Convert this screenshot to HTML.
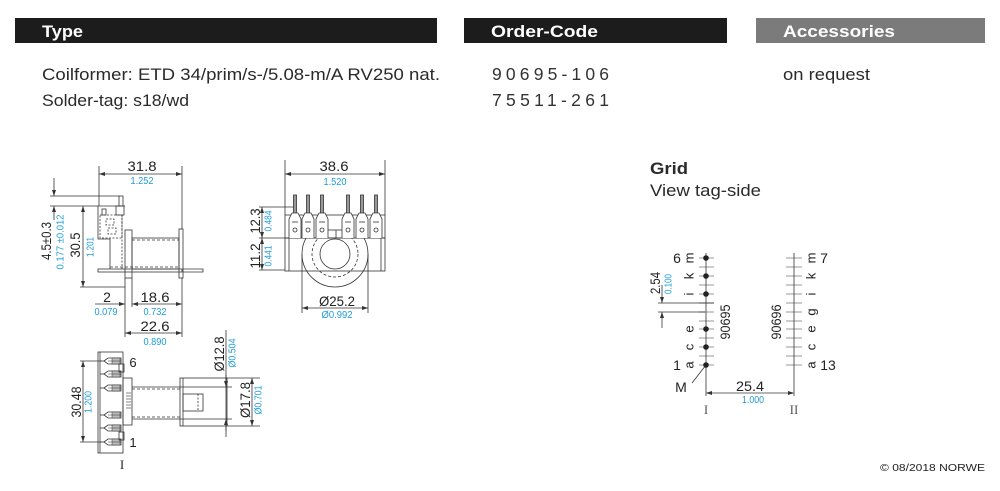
<!DOCTYPE html>
<html><head><meta charset="utf-8"><style>
html,body{margin:0;padding:0;background:#fff;}
svg{display:block;}
text{font-family:"Liberation Sans",sans-serif;}
.s{font-family:"Liberation Serif",serif;}
</style></head><body>
<svg width="1000" height="491" viewBox="0 0 1000 491" xmlns="http://www.w3.org/2000/svg">
<defs>
<marker id="a" viewBox="0 0 6 4" refX="6" refY="2" markerWidth="6" markerHeight="4" markerUnits="userSpaceOnUse" orient="auto-start-reverse"><path d="M0,0L6,2L0,4z" fill="#333"/></marker>
<clipPath id="cb"><rect x="250" y="238" width="150" height="80"/></clipPath>
</defs>

<!-- header -->
<rect x="15" y="18" width="422" height="25" fill="#1c1c1c"/>
<rect x="464" y="18" width="263" height="25" fill="#1c1c1c"/>
<rect x="756" y="18" width="229" height="25" fill="#7b7b7b"/>
<text x="42" y="37" font-size="17" font-weight="bold" fill="#fff" textLength="41" lengthAdjust="spacingAndGlyphs">Type</text>
<text x="491" y="37" font-size="17" font-weight="bold" fill="#fff" textLength="107" lengthAdjust="spacingAndGlyphs">Order-Code</text>
<text x="783" y="37" font-size="17" font-weight="bold" fill="#fff" textLength="112" lengthAdjust="spacingAndGlyphs">Accessories</text>

<g font-size="17" fill="#2a2a2a">
<text x="42" y="80" textLength="398" lengthAdjust="spacingAndGlyphs">Coilformer:  ETD 34/prim/s-/5.08-m/A RV250 nat.</text>
<text x="42" y="106" textLength="147" lengthAdjust="spacingAndGlyphs">Solder-tag:  s18/wd</text>
<text x="492" y="80" font-size="17.5" fill="#333" textLength="117" lengthAdjust="spacing">90695-106</text>
<text x="492" y="106" font-size="17.5" fill="#333" textLength="117" lengthAdjust="spacing">75511-261</text>
<text x="783" y="80" textLength="87" lengthAdjust="spacingAndGlyphs">on request</text>
<text x="650" y="174" font-weight="bold" textLength="38" lengthAdjust="spacingAndGlyphs">Grid</text>
<text x="650" y="196" textLength="111" lengthAdjust="spacingAndGlyphs">View tag-side</text>
</g>

<!-- ===== top-left drawing ===== -->
<g stroke="#333" stroke-width="0.8" fill="none">
<line x1="99" y1="166" x2="99" y2="206"/>
<line x1="182" y1="166" x2="182" y2="229"/>
<line x1="99" y1="174" x2="182" y2="174" marker-start="url(#a)" marker-end="url(#a)"/>
<line x1="50" y1="196" x2="119" y2="196"/>
<line x1="50" y1="206" x2="98" y2="206"/>
<line x1="54" y1="178" x2="54" y2="196" marker-end="url(#a)"/>
<line x1="54" y1="206" x2="54" y2="220" marker-start="url(#a)"/>
<line x1="83" y1="206" x2="83" y2="287" marker-start="url(#a)" marker-end="url(#a)"/>
<line x1="80" y1="287" x2="125" y2="287"/>
<rect x="119" y="196" width="4" height="10"/>
<path d="M98,206 H125 M98,206 V239 H110 V269"/>
<rect x="116" y="206" width="8" height="9"/>
<rect x="102" y="209" width="4" height="6"/>
<rect x="100" y="215" width="22" height="23" stroke-dasharray="2,1.5"/>
<rect x="106" y="219" width="8" height="6" stroke-dasharray="2,1.5"/>
<rect x="108" y="228" width="8" height="6" stroke-dasharray="2,1.5"/>
<line x1="122" y1="215" x2="122" y2="269" stroke-dasharray="2,1.5"/>
<rect x="98" y="269" width="84" height="3"/>
<rect x="125" y="230" width="7" height="48"/>
<rect x="132" y="238" width="47" height="31"/>
<line x1="132" y1="240" x2="179" y2="240" stroke-dasharray="3,2"/>
<line x1="110" y1="267" x2="179" y2="267" stroke-dasharray="3,2"/>
<rect x="179" y="229" width="4" height="49"/>
<path d="M183,269 H203 V272 H183"/>
<line x1="125" y1="278" x2="125" y2="337"/>
<line x1="132" y1="278" x2="132" y2="307"/>
<line x1="182" y1="278" x2="182" y2="337"/>
<line x1="95" y1="304" x2="125" y2="304" marker-end="url(#a)"/>
<line x1="132" y1="304" x2="182" y2="304" marker-start="url(#a)" marker-end="url(#a)"/>
<line x1="125" y1="333" x2="182" y2="333" marker-start="url(#a)" marker-end="url(#a)"/>
</g>
<g font-size="14" fill="#222" text-anchor="middle">
<text x="142" y="171" textLength="29" lengthAdjust="spacingAndGlyphs">31.8</text>
<text x="107" y="302">2</text>
<text x="155" y="302" textLength="29" lengthAdjust="spacingAndGlyphs">18.6</text>
<text x="155" y="331" textLength="29" lengthAdjust="spacingAndGlyphs">22.6</text>
<text transform="translate(46,241) rotate(-90)" dy="0.35em" textLength="38" lengthAdjust="spacingAndGlyphs">4.5±0.3</text>
<text transform="translate(75,245) rotate(-90)" dy="0.35em" textLength="25" lengthAdjust="spacingAndGlyphs">30.5</text>
</g>
<g font-size="10" fill="#1e9bd7" text-anchor="middle">
<text x="142" y="184" textLength="23" lengthAdjust="spacingAndGlyphs">1.252</text>
<text x="106" y="315" textLength="23" lengthAdjust="spacingAndGlyphs">0.079</text>
<text x="155" y="315" textLength="23" lengthAdjust="spacingAndGlyphs">0.732</text>
<text x="155" y="345" textLength="23" lengthAdjust="spacingAndGlyphs">0.890</text>
<text transform="translate(60,242) rotate(-90)" dy="0.35em" textLength="55" lengthAdjust="spacingAndGlyphs">0.177 ±0.012</text>
<text transform="translate(90,247) rotate(-90)" dy="0.35em" textLength="20" lengthAdjust="spacingAndGlyphs">1.201</text>
</g>

<!-- ===== middle drawing ===== -->
<g stroke="#333" stroke-width="0.8" fill="none">
<line x1="285" y1="160" x2="285" y2="215"/>
<line x1="385" y1="160" x2="385" y2="215"/>
<line x1="285" y1="174" x2="385" y2="174" marker-start="url(#a)" marker-end="url(#a)"/>
<line x1="259" y1="207" x2="295" y2="207"/>
<line x1="259" y1="238" x2="327" y2="238"/>
<line x1="259" y1="270" x2="285" y2="270"/>
<line x1="262" y1="207" x2="262" y2="238" marker-start="url(#a)" marker-end="url(#a)"/>
<line x1="262" y1="238" x2="262" y2="270" marker-start="url(#a)" marker-end="url(#a)"/>
<rect x="285" y="215" width="100" height="23"/>
<rect x="285" y="238" width="100" height="33"/>
<line x1="289" y1="238" x2="289" y2="271"/>
<line x1="381" y1="238" x2="381" y2="271"/>
<g clip-path="url(#cb)">
<circle cx="335" cy="254" r="33"/>
<circle cx="335" cy="254" r="23" stroke-dasharray="3,2"/>
</g>
<circle cx="335" cy="254" r="15"/>
<rect x="327" y="230" width="18" height="8"/>
<line x1="336" y1="230" x2="336" y2="238"/>
<line x1="302" y1="254" x2="302" y2="313"/>
<line x1="368" y1="254" x2="368" y2="313"/>
<line x1="302" y1="308" x2="368" y2="308" marker-start="url(#a)" marker-end="url(#a)"/>
</g>
<g stroke="#333" stroke-width="0.8" fill="none">
<g id="pin">
<rect x="293.5" y="195" width="3" height="19" fill="#999"/>
<path d="M289,238 V219 L292,213 H298 L301,219 V238" fill="#fff"/>
<circle cx="295" cy="230" r="2"/>
<line x1="292" y1="222" x2="298" y2="222"/>
</g>
<use href="#pin" x="13"/>
<use href="#pin" x="27"/>
<use href="#pin" x="53"/>
<use href="#pin" x="67"/>
<use href="#pin" x="81"/>
</g>
<g font-size="14" fill="#222" text-anchor="middle">
<text x="334" y="171" textLength="29" lengthAdjust="spacingAndGlyphs">38.6</text>
<text x="337" y="306" textLength="36" lengthAdjust="spacingAndGlyphs">Ø25.2</text>
<text transform="translate(255,221) rotate(-90)" dy="0.35em" textLength="25" lengthAdjust="spacingAndGlyphs">12.3</text>
<text transform="translate(255,256) rotate(-90)" dy="0.35em" textLength="25" lengthAdjust="spacingAndGlyphs">11.2</text>
</g>
<g font-size="10" fill="#1e9bd7" text-anchor="middle">
<text x="335" y="185" textLength="23" lengthAdjust="spacingAndGlyphs">1.520</text>
<text x="337" y="318" textLength="31" lengthAdjust="spacingAndGlyphs">Ø0.992</text>
<text transform="translate(268,221) rotate(-90)" dy="0.35em" textLength="21" lengthAdjust="spacingAndGlyphs">0.484</text>
<text transform="translate(268,256) rotate(-90)" dy="0.35em" textLength="21" lengthAdjust="spacingAndGlyphs">0.441</text>
</g>

<!-- ===== bottom-left drawing ===== -->
<g stroke="#333" stroke-width="0.8" fill="none">
<rect x="98" y="352" width="25" height="101"/>
<line x1="100" y1="352" x2="100" y2="453"/>
<rect x="123" y="378" width="9" height="47"/>
<g stroke-width="0.6">
<line x1="126" y1="393" x2="131" y2="393"/><line x1="126" y1="396" x2="131" y2="396"/>
<line x1="126" y1="399" x2="131" y2="399"/><line x1="126" y1="402" x2="131" y2="402"/>
<line x1="126" y1="405" x2="131" y2="405"/><line x1="126" y1="408" x2="131" y2="408"/>
</g>
<g id="hp">
<line x1="100" y1="361" x2="110" y2="361"/>
<path d="M104,361 L108,358 H121 V364 H108 Z" fill="#fff"/>
<rect x="112" y="358" width="8" height="6" fill="#bbb" stroke-width="0.5"/>
<line x1="108" y1="361" x2="121" y2="361" stroke-width="0.5"/>
</g>
<use href="#hp" y="13"/>
<use href="#hp" y="27"/>
<use href="#hp" y="54"/>
<use href="#hp" y="67"/>
<use href="#hp" y="81"/>
<rect x="119" y="364" width="5" height="8"/>
<rect x="119" y="432" width="5" height="8"/>
<line x1="132" y1="387" x2="180" y2="387"/>
<line x1="132" y1="419" x2="180" y2="419"/>
<line x1="132" y1="389" x2="180" y2="389" stroke-dasharray="3,2"/>
<line x1="132" y1="417" x2="180" y2="417" stroke-dasharray="3,2"/>
<rect x="180" y="378" width="47" height="48"/>
<line x1="183" y1="378" x2="183" y2="426"/>
<rect x="183" y="394" width="20" height="17"/>
<line x1="198" y1="394" x2="198" y2="411" stroke-dasharray="2,1.5"/>
<line x1="180" y1="387" x2="232" y2="387"/>
<line x1="180" y1="419" x2="232" y2="419"/>
<line x1="226" y1="330" x2="226" y2="437"/>
<line x1="226" y1="375" x2="226" y2="387" marker-end="url(#a)"/>
<line x1="226" y1="419" x2="226" y2="431" marker-start="url(#a)"/>
<line x1="227" y1="378" x2="260" y2="378"/>
<line x1="227" y1="426" x2="260" y2="426"/>
<line x1="252" y1="378" x2="252" y2="426" marker-start="url(#a)" marker-end="url(#a)"/>
<line x1="80" y1="361" x2="102" y2="361"/>
<line x1="80" y1="442" x2="102" y2="442"/>
<line x1="83" y1="361" x2="83" y2="442" marker-start="url(#a)" marker-end="url(#a)"/>
</g>
<g font-size="14" fill="#222" text-anchor="middle">
<text x="133" y="367" font-size="13">6</text>
<text x="133" y="447" font-size="13">1</text>
<text class="s" x="122" y="469" font-size="13">I</text>
<text transform="translate(76,402) rotate(-90)" dy="0.35em" textLength="31" lengthAdjust="spacingAndGlyphs">30.48</text>
<text transform="translate(219,354) rotate(-90)" dy="0.35em" textLength="35" lengthAdjust="spacingAndGlyphs">Ø12.8</text>
<text transform="translate(245,400) rotate(-90)" dy="0.35em" textLength="36" lengthAdjust="spacingAndGlyphs">Ø17.8</text>
</g>
<g font-size="10" fill="#1e9bd7" text-anchor="middle">
<text transform="translate(88,402) rotate(-90)" dy="0.35em" textLength="22" lengthAdjust="spacingAndGlyphs">1.200</text>
<text transform="translate(232,353) rotate(-90)" dy="0.35em" textLength="29" lengthAdjust="spacingAndGlyphs">Ø0.504</text>
<text transform="translate(258,400) rotate(-90)" dy="0.35em" textLength="29" lengthAdjust="spacingAndGlyphs">Ø0.701</text>
</g>

<!-- ===== grid ===== -->
<g stroke="#aaa" stroke-width="1.2">
<line x1="699" y1="258" x2="714" y2="258"/><line x1="699" y1="267" x2="714" y2="267"/>
<line x1="699" y1="276" x2="714" y2="276"/><line x1="699" y1="285" x2="714" y2="285"/>
<line x1="699" y1="294" x2="714" y2="294"/><line x1="699" y1="303" x2="714" y2="303"/>
<line x1="699" y1="312" x2="714" y2="312"/><line x1="699" y1="321" x2="714" y2="321"/>
<line x1="699" y1="329" x2="714" y2="329"/><line x1="699" y1="338" x2="714" y2="338"/>
<line x1="699" y1="347" x2="714" y2="347"/><line x1="699" y1="356" x2="714" y2="356"/>
<line x1="699" y1="365" x2="714" y2="365"/>
<line x1="786" y1="258" x2="802" y2="258"/><line x1="786" y1="267" x2="802" y2="267"/>
<line x1="786" y1="276" x2="802" y2="276"/><line x1="786" y1="285" x2="802" y2="285"/>
<line x1="786" y1="294" x2="802" y2="294"/><line x1="786" y1="303" x2="802" y2="303"/>
<line x1="786" y1="312" x2="802" y2="312"/><line x1="786" y1="321" x2="802" y2="321"/>
<line x1="786" y1="329" x2="802" y2="329"/><line x1="786" y1="338" x2="802" y2="338"/>
<line x1="786" y1="347" x2="802" y2="347"/><line x1="786" y1="356" x2="802" y2="356"/>
<line x1="786" y1="365" x2="802" y2="365"/>
</g>
<g stroke="#333" stroke-width="0.8" fill="none">
<line x1="706" y1="253" x2="706" y2="396"/>
<line x1="794" y1="253" x2="794" y2="396"/>
<line x1="658" y1="303" x2="714" y2="303"/>
<line x1="658" y1="312" x2="705" y2="312"/>
<line x1="662" y1="285" x2="662" y2="303" marker-end="url(#a)"/>
<line x1="662" y1="312" x2="662" y2="328" marker-start="url(#a)"/>
<line x1="692" y1="383" x2="706" y2="365"/>
<line x1="706" y1="393" x2="794" y2="393" stroke="#888" stroke-width="1.2" marker-start="url(#a)" marker-end="url(#a)"/>
</g>
<g fill="#222">
<circle cx="706" cy="258" r="2.8"/><circle cx="706" cy="276" r="2.8"/>
<circle cx="706" cy="294" r="2.8"/><circle cx="706" cy="329" r="2.8"/>
<circle cx="706" cy="347" r="2.8"/><circle cx="706" cy="365" r="2.8"/>
</g>
<g font-size="13" fill="#222" text-anchor="middle">
<text transform="translate(689,258) rotate(-90)" dy="0.35em">m</text>
<text transform="translate(689,276) rotate(-90)" dy="0.35em">k</text>
<text transform="translate(689,294) rotate(-90)" dy="0.35em">i</text>
<text transform="translate(689,329) rotate(-90)" dy="0.35em">e</text>
<text transform="translate(689,347) rotate(-90)" dy="0.35em">c</text>
<text transform="translate(689,365) rotate(-90)" dy="0.35em">a</text>
<text transform="translate(811,258) rotate(-90)" dy="0.35em">m</text>
<text transform="translate(811,276) rotate(-90)" dy="0.35em">k</text>
<text transform="translate(811,294) rotate(-90)" dy="0.35em">i</text>
<text transform="translate(811,312) rotate(-90)" dy="0.35em">g</text>
<text transform="translate(811,329) rotate(-90)" dy="0.35em">e</text>
<text transform="translate(811,347) rotate(-90)" dy="0.35em">c</text>
<text transform="translate(811,365) rotate(-90)" dy="0.35em">a</text>
</g>
<g font-size="14" fill="#222" text-anchor="middle">
<text x="677" y="263">6</text>
<text x="677" y="370">1</text>
<text x="824" y="263">7</text>
<text x="828" y="370">13</text>
<text x="681" y="392">M</text>
<text transform="translate(725,322) rotate(-90)" dy="0.35em" textLength="35" lengthAdjust="spacingAndGlyphs">90695</text>
<text transform="translate(776,322) rotate(-90)" dy="0.35em" textLength="35" lengthAdjust="spacingAndGlyphs">90696</text>
<text transform="translate(655,283) rotate(-90)" dy="0.35em" textLength="22" lengthAdjust="spacingAndGlyphs">2.54</text>
<text x="750" y="391" textLength="28" lengthAdjust="spacingAndGlyphs">25.4</text>
<text class="s" x="706" y="414" font-size="13" fill="#555">I</text>
<text class="s" x="794" y="414" font-size="13" fill="#555">II</text>
</g>
<g font-size="10" fill="#1e9bd7" text-anchor="middle">
<text transform="translate(668,284) rotate(-90)" dy="0.35em" textLength="20" lengthAdjust="spacingAndGlyphs">0.100</text>
<text x="753" y="403" textLength="22" lengthAdjust="spacingAndGlyphs">1.000</text>
</g>

<text x="880" y="471" font-size="10.5" fill="#222" textLength="105" lengthAdjust="spacingAndGlyphs">© 08/2018 NORWE</text>
</svg>
</body></html>
